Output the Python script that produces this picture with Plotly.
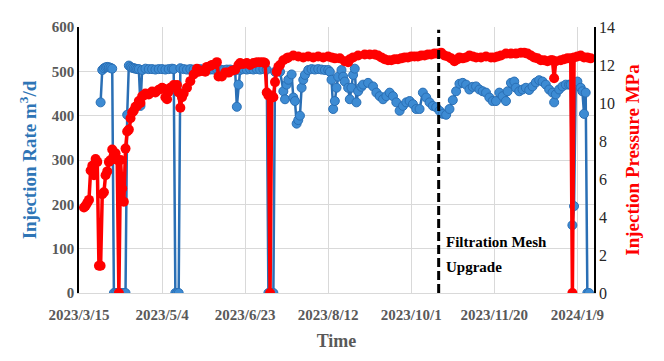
import pandas as pd
import plotly.graph_objects as go

start_date = "2023-03-15"
end_date = "2024-01-19"
event_date = "2023-10-17 12:00"

x_tick_labels = ["2023/3/15", "2023/5/4", "2023/6/23", "2023/8/12", "2023/10/1", "2023/11/20", "2024/1/9"]
rate_ticks = [0, 100, 200, 300, 400, 500, 600]

blue_days = [
    13, 14, 15, 16, 17, 18, 19, 20,
    21, 22, 23, 24, 25, 26, 27, 28,
    29, 30, 31, 32, 33, 34, 35, 36, 37, 38,
    40, 42, 44, 46, 48, 50, 52, 54, 56, 57,
    58, 59, 60,
    61, 63, 65, 67, 69, 71, 73, 75, 77, 79,
    81, 83, 85, 87, 89, 91, 93, 94, 95, 96,
    97, 99, 101, 103, 105, 107, 109, 111, 113,
    114, 115, 116, 117,
    118, 120, 121, 123, 124, 125, 126, 128, 129, 130,
    131, 132, 133, 134, 135, 136, 138, 140, 142, 144,
    146, 148, 150, 151, 152, 153, 154, 155, 156, 158,
    159, 160, 162, 163, 164, 165, 166, 167, 168, 170,
    171, 174, 177, 179, 181, 183, 185, 187, 189, 191,
    193, 195, 197, 199, 201, 203, 205, 207, 209, 211,
    213, 215, 217, 219, 221, 223, 225, 227, 229, 231,
    233, 235, 237, 239, 241, 243, 245, 247, 249, 251,
    253, 255, 257, 258, 260, 262, 263, 265, 267, 269,
    271, 273, 275, 277, 279, 281, 283, 285, 286, 287,
    289, 291, 293, 295, 296, 297, 298, 299, 300, 302,
    303, 304, 305, 306, 307,
]
injection_rate = [
    430, 503, 507, 509, 510, 509, 508, 506,
    0, 0, 0, 0, 0, 0, 0, 0,
    402, 513, 510, 508, 507, 506, 505, 505, 422, 503,
    506, 505, 505, 504, 505, 505, 504, 505, 506, 505,
    0, 0, 0,
    507, 505, 504, 505, 504, 504, 505, 504, 503, 504,
    504, 505, 504, 503, 504, 504, 503, 502, 420, 470,
    503, 505, 504, 505, 504, 505, 504, 505, 504,
    0, 0, 0, 0,
    499, 501, 499, 455, 437, 470, 481, 493, 441, 433,
    382, 390, 400, 463, 481, 492, 503, 505, 504, 505,
    504, 503, 503, 499, 481, 415, 433, 463, 488, 503,
    488, 477, 463, 437, 463, 492, 506, 430, 455, 465,
    470, 474, 466, 452, 444, 437, 444, 452, 444, 430,
    411, 422, 430, 433, 426, 415, 415, 452, 441, 430,
    422, 419, 411, 404, 402, 415, 435, 455, 472, 474,
    470, 459, 465, 466, 459, 455, 452, 441, 433, 433,
    452, 444, 433, 455, 474, 477, 463, 455, 459, 463,
    458, 466, 475, 480, 477, 470, 459, 452, 430, 448,
    459, 466, 470, 470, 470, 153, 196, 474, 477, 463,
    455, 404, 452, 0, 0,
]

red_days = [
    3, 4, 5, 6, 7, 8, 9, 10, 11, 12,
    13, 14, 15, 16, 17, 18, 19, 20, 21, 22,
    23, 24, 25, 26, 27, 28, 29, 30, 31, 32,
    33, 34, 35, 36, 37, 38, 39, 40, 42, 44,
    46, 48, 50, 51, 52, 53, 54, 55, 57, 59,
    60, 61, 62, 63, 65, 67, 69, 71, 72, 74,
    76, 77, 79, 80, 82, 83, 84, 86, 88, 90,
    92, 94, 96, 97, 99, 101, 103, 105, 107, 109,
    111, 112, 113, 114, 115, 116, 117, 118, 119, 120,
    121, 123, 125, 126, 129, 132, 135, 138, 141, 144,
    147, 150, 152, 154, 157, 160, 162, 163, 165, 168,
    172, 175, 178, 180, 182, 184, 186, 188, 190, 192,
    194, 196, 198, 200, 202, 204, 206, 208, 210, 212,
    214, 216, 218, 220, 222, 224, 226, 228, 229, 231,
    233, 235, 237, 239, 242, 245, 248, 250, 252, 254,
    257, 260, 263, 266, 268, 270, 272, 274, 276, 278,
    280, 282, 284, 285, 286, 287, 290, 292, 294, 296,
    297, 298, 300, 302, 304, 306, 308,
]
injection_pressure = [
    4.5, 4.6, 4.75, 4.9, 6.45, 6.7, 6.2, 7.05, 6.9, 1.43,
    1.43, 5.2, 5.3, 6.2, 6.4, 6.9, 7.0, 7.55, 7.3, 7.35,
    7.0, 0, 7.0, 5.5, 4.8, 7.6, 8.5, 8.6, 9.2, 9.5,
    9.6, 9.8, 9.85, 10.1, 10.0, 10.35, 10.4, 10.5, 10.45, 10.6,
    10.55, 10.7, 10.8, 10.75, 10.3, 10.2, 10.6, 10.8, 10.95, 10.95,
    10.55, 9.75, 10.3, 10.5, 10.8, 11.15, 11.5, 11.8, 11.65, 11.7,
    11.65, 11.9, 11.95, 12.0, 12.05, 12.15, 11.4, 11.4, 11.6, 11.6,
    11.7, 11.75, 12.0, 12.1, 12.05, 12.1, 12.0, 12.1, 12.15, 12.15,
    12.15, 12.1, 10.55, 10.4, 0, 10.4, 10.3, 11.1, 11.65, 11.9,
    12.0, 12.25, 12.35, 12.4, 12.5, 12.45, 12.4, 12.45, 12.4, 12.45,
    12.4, 12.45, 12.4, 12.35, 12.35, 12.2, 12.15, 12.3, 12.4, 12.5,
    12.55, 12.55, 12.55, 12.5, 12.4, 12.3, 12.25, 12.25, 12.3, 12.3,
    12.35, 12.4, 12.4, 12.45, 12.45, 12.45, 12.5, 12.5, 12.55, 12.55,
    12.6, 12.6, 12.65, 12.5, 12.45, 12.35, 12.2, 12.3, 12.4, 12.35,
    12.4, 12.5, 12.45, 12.4, 12.4, 12.45, 12.4, 12.4, 12.45, 12.5,
    12.6, 12.6, 12.6, 12.65, 12.65, 12.6, 12.5, 12.4, 12.35, 12.25,
    12.25, 12.2, 12.25, 12.25, 11.3, 12.2, 12.25, 12.3, 12.35, 12.35,
    0, 12.4, 12.45, 12.5, 12.4, 12.4, 12.35,
]

t0 = pd.Timestamp(start_date)
blue_x = t0 + pd.to_timedelta(blue_days, unit="D")
red_x = t0 + pd.to_timedelta(red_days, unit="D")
tick_vals = pd.to_datetime(x_tick_labels, format="%Y/%m/%d")

FONT = "Liberation Serif, Times New Roman, serif"
GRAY = "#595959"
BLUE = "#2E75B6"
RED = "#FF0000"
GRID = "#D9D9D9"

fig = go.Figure()
fig.add_trace(go.Scatter(
    x=blue_x, y=injection_rate, mode="lines+markers", name="Injection Rate",
    line=dict(color="#2A6FB5", width=2.5),
    marker=dict(size=9, color="#3D8BD3", line=dict(color="#2A6FB5", width=1)),
    yaxis="y", showlegend=False,
))
fig.add_trace(go.Scatter(
    x=red_x, y=injection_pressure, mode="lines+markers", name="Injection Pressure",
    line=dict(color=RED, width=3.5),
    marker=dict(size=10, color=RED),
    yaxis="y2", showlegend=False,
))

fig.add_shape(type="line", x0=event_date, x1=event_date, xref="x", yref="paper",
              y0=0, y1=0.99, line=dict(color="black", width=3, dash="9px,4px"))

fig.add_annotation(x=pd.Timestamp(event_date) + pd.Timedelta(days=3), y=0.191, xref="x", yref="paper",
                   text="<b>Filtration Mesh</b>", showarrow=False, xanchor="left", yanchor="middle",
                   font=dict(family=FONT, size=15, color="black"))
fig.add_annotation(x=pd.Timestamp(event_date) + pd.Timedelta(days=3), y=0.096, xref="x", yref="paper",
                   text="<b>Upgrade</b>", showarrow=False, xanchor="left", yanchor="middle",
                   font=dict(family=FONT, size=15, color="black"))

# the page body adds an 8px offset, so the figure is sized to fit inside the window
fig.update_layout(
    width=656, height=353,
    margin=dict(l=71, r=70, t=11, b=68),
    paper_bgcolor="white", plot_bgcolor="white",
    font=dict(family=FONT),
    xaxis=dict(
        type="date", range=[start_date, end_date],
        tickvals=tick_vals, ticktext=["<b>%s</b>" % s for s in x_tick_labels],
        tickfont=dict(family=FONT, size=15, color=GRAY),
        ticklabelstandoff=8,
        showgrid=True, gridcolor=GRID, gridwidth=1,
        showline=True, linecolor=GRID, linewidth=1, ticks="",
        title=dict(text="<b>Time</b>", font=dict(family=FONT, size=18, color=GRAY), standoff=12),
        zeroline=False,
    ),
    yaxis=dict(
        range=[0, 600],
        tickvals=rate_ticks, ticktext=["<b>%d</b>" % v for v in rate_ticks],
        tickfont=dict(family=FONT, size=15, color=GRAY),
        showgrid=True, gridcolor=GRID, gridwidth=1,
        showline=True, linecolor="black", linewidth=1.5, ticks="",
        title=dict(text="<b>Injection Rate m<sup>3</sup>/d</b>", font=dict(family=FONT, size=19, color=BLUE), standoff=10),
        zeroline=False,
    ),
    yaxis2=dict(
        range=[0, 14], dtick=2, overlaying="y", side="right",
        tickfont=dict(family=FONT, size=16, color="#262626"),
        showgrid=False, showline=True, linecolor="black", linewidth=1.5, ticks="",
        title=dict(text="<b>Injection Pressure MPa</b>", font=dict(family=FONT, size=19, color=RED), standoff=12),
        zeroline=False,
    ),
)

fig.write_html("out.html")
